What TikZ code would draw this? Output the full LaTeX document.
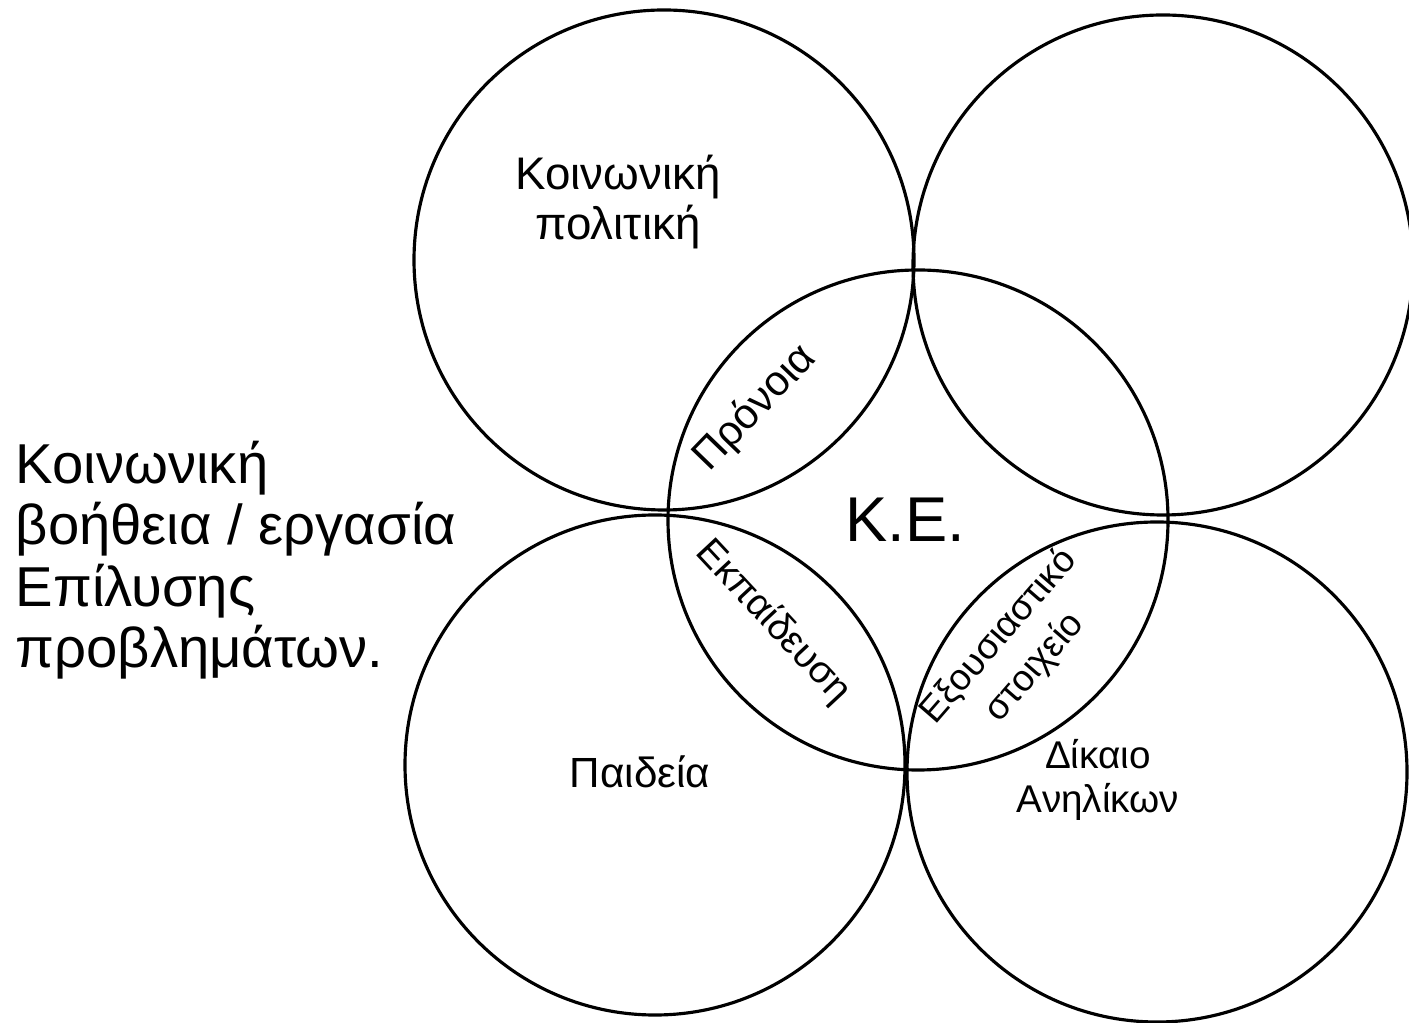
\documentclass[tikz,border=0pt]{standalone}
\usepackage{fontspec}
\setmainfont{Liberation Sans}
\newcommand{\fsz}[2]{\fontsize{#1}{#2}\selectfont}
\begin{document}
\begin{tikzpicture}[
		ring/.style={draw, circle, line width=0.9pt, minimum size=5cm, inner sep=0pt},
		lbl/.style={align=center, inner sep=1pt, font=\fsz{12}{13}}
	]
		\useasboundingbox (0,0) rectangle (14.09,-10.23);

		\node[ring] (pol) at (6.64,-2.60) {};
		\node[ring] (tr) at (11.63,-2.65) {};
		\node[ring] (ke) at (9.18,-5.20) {};
		\node[ring] (pai) at (6.55,-7.65) {};
		\node[ring] (dik) at (11.57,-7.72) {};

		\node[lbl, font=\fsz{13}{14}] (tpol) at (6.18,-2.02) {Κοινωνική\\πολιτική};
		\node[lbl, rotate=46] (tpro) at (7.55,-4.08) {Πρόνοια};
		\node[lbl, font=\fsz{18}{20}] (tke) at (9.05,-5.20) {Κ.Ε.};
		\node[lbl, rotate=-47, font=\fsz{11}{12}] (tekp) at (7.73,-6.22) {Εκπαίδευση};
		\node[lbl, rotate=49, font=\fsz{10.5}{13.5}] (texo) at (10.17,-6.52) {Εξουσιαστικό\\στοιχείο};
		\node[lbl] (tpai) at (6.40,-7.72) {Παιδεία};
		\node[lbl, font=\fsz{11}{12.5}] (tdik) at (10.98,-7.80) {Δίκαιο\\Ανηλίκων};

		\node[align=left, anchor=north west, inner sep=0pt, font=\fsz{16}{17.5}] (tbo) at (0.15,-4.40) {Κοινωνική\\βοήθεια / εργασία\\Επίλυσης\\προβλημάτων.};
	\end{tikzpicture}
\end{document}
